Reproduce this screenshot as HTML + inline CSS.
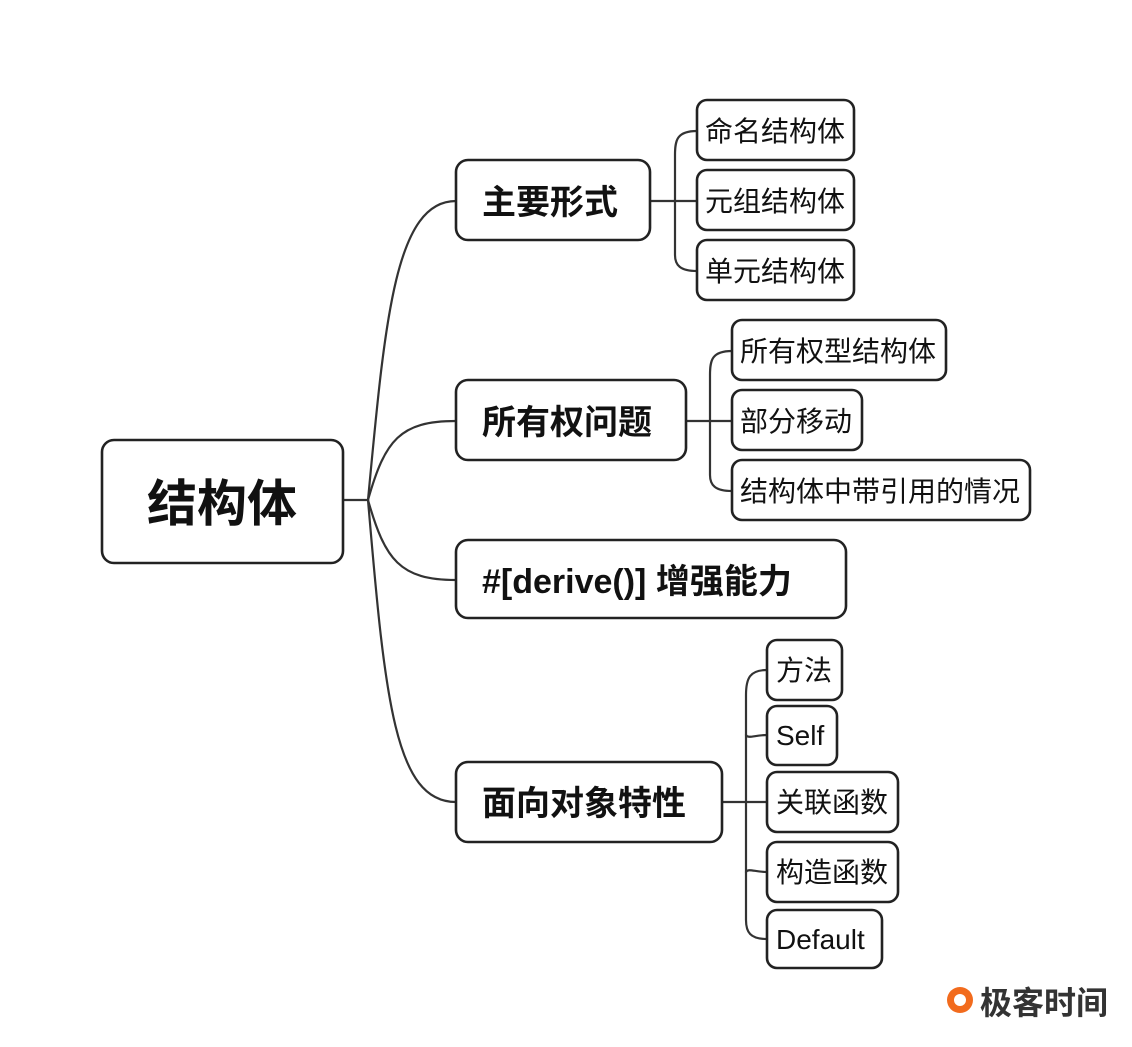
<!DOCTYPE html>
<html><head><meta charset="utf-8"><style>
html,body{margin:0;padding:0;background:#fff;}
svg{display:block}
text{font-family:"Liberation Sans","Noto Sans CJK SC",sans-serif;fill:#111;}
</style></head><body>
<svg width="1132" height="1047" viewBox="0 0 1132 1047" xmlns="http://www.w3.org/2000/svg">
<g fill="none" stroke="#333" stroke-width="2.2" stroke-linecap="round">
<path d="M343 500 L368 500"/>
<path d="M368 500 C385 320,395 201,456 201"/>
<path d="M368 500 C385 440,400 421,456 421"/>
<path d="M368 500 C385 560,400 580,456 580"/>
<path d="M368 500 C385 700,395 802,456 802"/>
<path d="M650 201 L697 201"/>
<path d="M697 131 C677 131,675 140,675 155 L675 255 C675 265,680 271,697 271"/>
<path d="M686 421 L732 421"/>
<path d="M732 351 C712 351,710 360,710 375 L710 475 C710 485,715 491,732 491"/>
<path d="M722 802 L767 802"/>
<path d="M767 670 C750 670,746 678,746 695 L746 920 C746 932,750 939,767 939"/>
<path d="M746 735 C748 739,755 735,767 735"/>
<path d="M746 872 C748 868,755 872,767 872"/>
</g>
<g fill="#fff" stroke="#222" stroke-width="2.6">
<rect x="102" y="440" width="241" height="123" rx="12"/>
<rect x="456" y="160" width="194" height="80" rx="12"/>
<rect x="456" y="380" width="230" height="80" rx="12"/>
<rect x="456" y="540" width="390" height="78" rx="12"/>
<rect x="456" y="762" width="266" height="80" rx="12"/>
<rect x="697" y="100" width="157" height="60" rx="10"/>
<rect x="697" y="170" width="157" height="60" rx="10"/>
<rect x="697" y="240" width="157" height="60" rx="10"/>
<rect x="732" y="320" width="214" height="60" rx="10"/>
<rect x="732" y="390" width="130" height="60" rx="10"/>
<rect x="732" y="460" width="298" height="60" rx="10"/>
<rect x="767" y="640" width="75" height="60" rx="10"/>
<rect x="767" y="706" width="70" height="59" rx="10"/>
<rect x="767" y="772" width="131" height="60" rx="10"/>
<rect x="767" y="842" width="131" height="60" rx="10"/>
<rect x="767" y="910" width="115" height="58" rx="10"/>
</g>
<g font-weight="bold">
<text x="222" y="521" font-size="50" text-anchor="middle">结构体</text>
<text x="482" y="214" font-size="34">主要形式</text>
<text x="482" y="434" font-size="34">所有权问题</text>
<text x="482" y="593" font-size="34">#[derive()] 增强能力</text>
<text x="482" y="815" font-size="34">面向对象特性</text>
</g>
<g font-size="28">
<text x="705" y="141">命名结构体</text>
<text x="705" y="211">元组结构体</text>
<text x="705" y="281">单元结构体</text>
<text x="740" y="361">所有权型结构体</text>
<text x="740" y="431">部分移动</text>
<text x="740" y="501">结构体中带引用的情况</text>
<text x="776" y="680">方法</text>
<text x="776" y="745">Self</text>
<text x="776" y="812">关联函数</text>
<text x="776" y="882">构造函数</text>
<text x="776" y="949">Default</text>
</g>
<circle cx="960" cy="1000" r="13" fill="#f26b1d"/>
<circle cx="960" cy="1000" r="6" fill="#fff"/>
<text x="980" y="1014" font-size="32" font-weight="bold" fill="#333" style="fill:#333">极客时间</text>
</svg>
</body></html>
